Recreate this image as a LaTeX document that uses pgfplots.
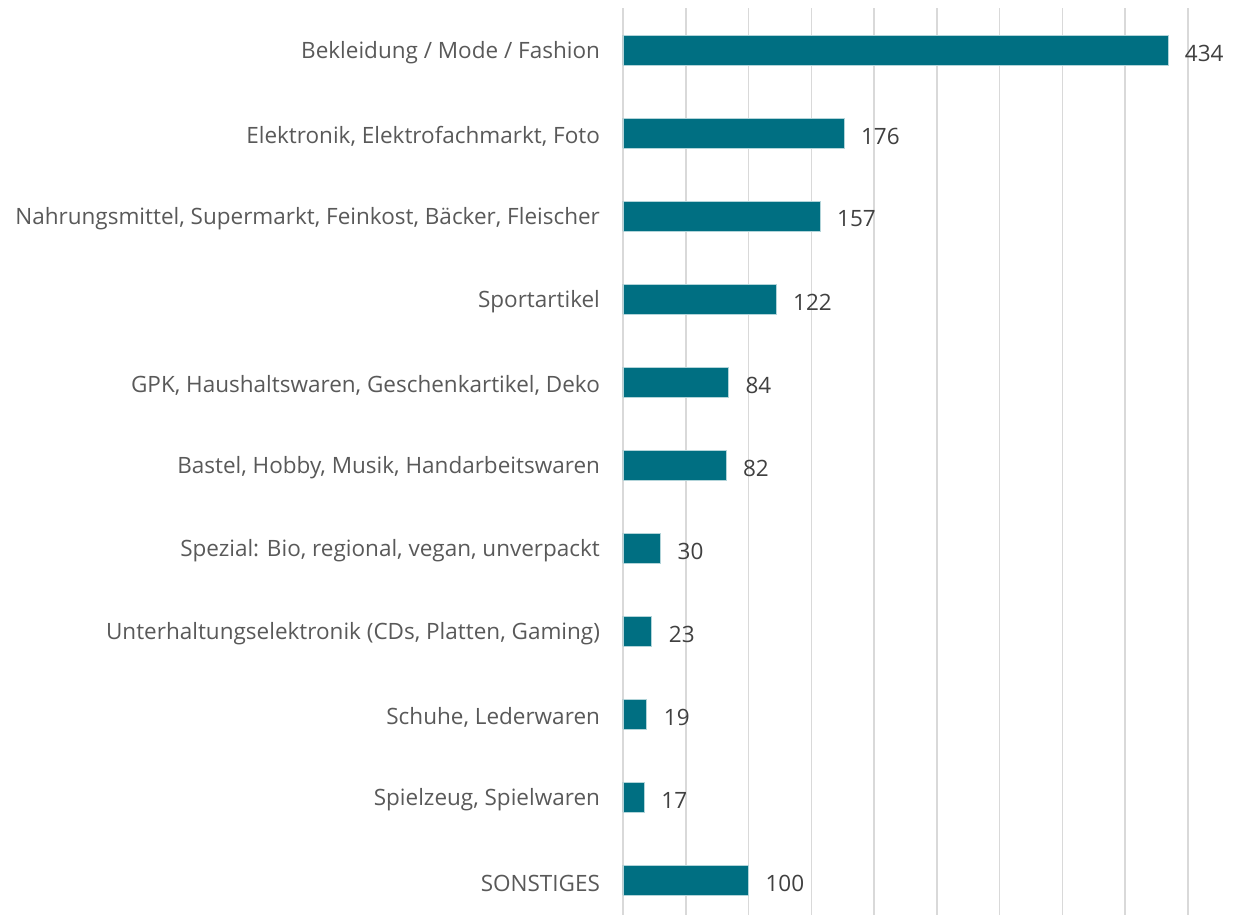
\documentclass[border=0pt]{standalone}
\usepackage{pgfplots}
\pgfplotsset{compat=1.18}
\usepackage{fontspec}
\setmainfont{Open Sans}
\definecolor{barcol}{HTML}{006F82}
\definecolor{txt}{HTML}{595959}
\definecolor{valtxt}{HTML}{404040}
\definecolor{grd}{HTML}{D9D9D9}
\begin{document}
\begin{tikzpicture}
\useasboundingbox (0,0) rectangle (619pt,457.5pt);
\begin{axis}[
    at={(311.5pt,0pt)}, anchor=south west,
    scale only axis,
    width=282.5pt, height=453.25pt,
    xbar, bar width=15pt,
    xmin=0, xmax=450,
    ymin=-0.5, ymax=10.42, y dir=reverse,
    xtick={0,50,...,450}, xticklabels={},
    ytick={0,...,10},
    yticklabels={Bekleidung / Mode / Fashion,
        {Elektronik, Elektrofachmarkt, Foto},
        {Nahrungsmittel, Supermarkt, Feinkost, Bäcker, Fleischer},
        Sportartikel,
        {GPK, Haushaltswaren, Geschenkartikel, Deko},
        {Bastel, Hobby, Musik, Handarbeitswaren},
        {Spezial: Bio, regional, vegan, unverpackt},
        {Unterhaltungselektronik (CDs, Platten, Gaming)},
        {Schuhe, Lederwaren},
        {Spielzeug, Spielwaren},
        SONSTIGES},
    major tick length=0pt,
    axis line style={draw=none},
    xmajorgrids, grid style={grd, line width=0.75pt},
    yticklabel style={font=\fontsize{11.25}{13}\selectfont, text=txt, xshift=-8pt, yshift=-1.5pt},
    nodes near coords,
    point meta=explicit symbolic,
    nodes near coords style={font=\fontsize{11.25}{13}\selectfont, text=valtxt, anchor=west, xshift=5pt, yshift=-1.5pt},
]
\addplot[fill=barcol, draw=white!70!barcol, line width=0.4pt] coordinates {
    (434,0) [434] (176,1) [176] (157,2) [157] (122,3) [122] (84,4) [84]
    (82,5) [82] (30,6) [30] (23,7) [23] (19,8) [19] (17,9) [17] (100,10) [100]
};
\end{axis}
\end{tikzpicture}
\end{document}
